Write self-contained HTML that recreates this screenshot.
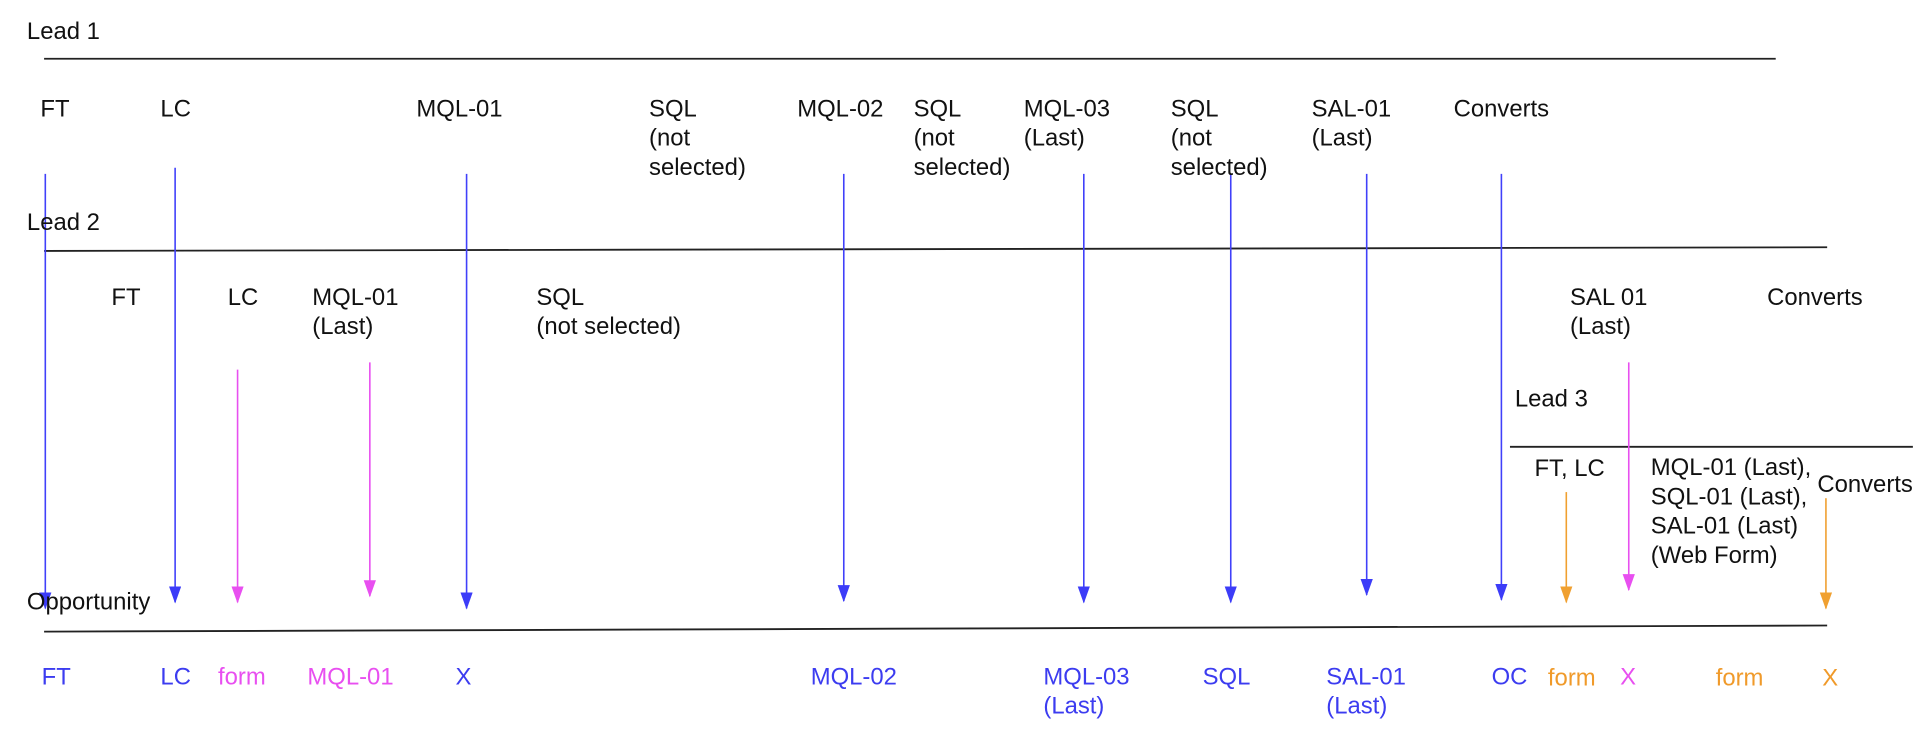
<!DOCTYPE html>
<html><head><meta charset="utf-8"><style>
html,body{margin:0;padding:0;background:#fff;}
svg{display:block;}
text{font-family:"Liberation Sans",Arial,sans-serif;font-size:19.5px;fill:#111;}
.b{fill:#3c3cf0}.m{fill:#e84ff0}.o{fill:#f09a2a}
</style></head><body>
<svg width="1919" height="732" viewBox="0 0 1567 598" preserveAspectRatio="none" xmlns="http://www.w3.org/2000/svg">
<defs>
<marker id="ab" markerWidth="14" markerHeight="12" refX="13" refY="5" orient="auto" markerUnits="userSpaceOnUse"><path d="M0,0 L14,5 L0,10 Z" fill="#3c3cf8"/></marker>
<marker id="am" markerWidth="14" markerHeight="12" refX="13" refY="5" orient="auto" markerUnits="userSpaceOnUse"><path d="M0,0 L14,5 L0,10 Z" fill="#e84ff0"/></marker>
<marker id="ao" markerWidth="14" markerHeight="12" refX="13" refY="5" orient="auto" markerUnits="userSpaceOnUse"><path d="M0,0 L14,5 L0,10 Z" fill="#f0a030"/></marker>
</defs>
<g stroke="#222" stroke-width="1.5">
<line x1="36" y1="48" x2="1450" y2="48"/>
<line x1="36" y1="205" x2="1492" y2="202"/>
<line x1="36" y1="516" x2="1492" y2="511"/>
<line x1="1233" y1="365" x2="1562" y2="365"/>
</g>
<g stroke="#4040fa" stroke-width="1.3">
<line x1="37" y1="142" x2="37" y2="497" marker-end="url(#ab)"/>
<line x1="143" y1="137" x2="143" y2="492" marker-end="url(#ab)"/>
<line x1="381" y1="142" x2="381" y2="497" marker-end="url(#ab)"/>
<line x1="689" y1="142" x2="689" y2="491" marker-end="url(#ab)"/>
<line x1="885" y1="142" x2="885" y2="492" marker-end="url(#ab)"/>
<line x1="1005" y1="142" x2="1005" y2="492" marker-end="url(#ab)"/>
<line x1="1116" y1="142" x2="1116" y2="486" marker-end="url(#ab)"/>
<line x1="1226" y1="142" x2="1226" y2="490" marker-end="url(#ab)"/>
</g>
<g stroke="#e84ff0" stroke-width="1.3">
<line x1="194" y1="302" x2="194" y2="492" marker-end="url(#am)"/>
<line x1="302" y1="296" x2="302" y2="487" marker-end="url(#am)"/>
<line x1="1330" y1="296" x2="1330" y2="482" marker-end="url(#am)"/>
</g>
<g stroke="#f0a030" stroke-width="1.3">
<line x1="1279" y1="402" x2="1279" y2="492" marker-end="url(#ao)"/>
<line x1="1491" y1="407" x2="1491" y2="497" marker-end="url(#ao)"/>
</g>
<text x="22" y="32">Lead 1</text>
<text x="22" y="188">Lead 2</text>
<text x="1237" y="332">Lead 3</text>
<text x="22" y="498">Opportunity</text>
<text x="33" y="95">FT</text>
<text x="131" y="95">LC</text>
<text x="340" y="95">MQL-01</text>
<text x="530" y="95">SQL</text><text x="530" y="119">(not</text><text x="530" y="143">selected)</text>
<text x="651" y="95">MQL-02</text>
<text x="746" y="95">SQL</text><text x="746" y="119">(not</text><text x="746" y="143">selected)</text>
<text x="836" y="95">MQL-03</text><text x="836" y="119">(Last)</text>
<text x="956" y="95">SQL</text><text x="956" y="119">(not</text><text x="956" y="143">selected)</text>
<text x="1071" y="95">SAL-01</text><text x="1071" y="119">(Last)</text>
<text x="1187" y="95">Converts</text>
<text x="91" y="249">FT</text>
<text x="186" y="249">LC</text>
<text x="255" y="249">MQL-01</text><text x="255" y="273">(Last)</text>
<text x="438" y="249">SQL</text><text x="438" y="273">(not selected)</text>
<text x="1282" y="249">SAL 01</text><text x="1282" y="273">(Last)</text>
<text x="1443" y="249">Converts</text>
<text x="1253" y="389">FT, LC</text>
<text x="1348" y="388">MQL-01 (Last),</text>
<text x="1348" y="412">SQL-01 (Last),</text>
<text x="1348" y="436">SAL-01 (Last)</text>
<text x="1348" y="460">(Web Form)</text>
<text x="1484" y="402">Converts</text>
<text class="b" x="34" y="559">FT</text>
<text class="b" x="131" y="559">LC</text>
<text class="m" x="178" y="559">form</text>
<text class="m" x="251" y="559">MQL-01</text>
<text class="b" x="372" y="559">X</text>
<text class="b" x="662" y="559">MQL-02</text>
<text class="b" x="852" y="559">MQL-03</text><text class="b" x="852" y="583">(Last)</text>
<text class="b" x="982" y="559">SQL</text>
<text class="b" x="1083" y="559">SAL-01</text><text class="b" x="1083" y="583">(Last)</text>
<text class="b" x="1218" y="559">OC</text>
<text class="o" x="1264" y="560">form</text>
<text class="m" x="1323" y="559">X</text>
<text class="o" x="1401" y="560">form</text>
<text class="o" x="1488" y="560">X</text>
</svg>
</body></html>
